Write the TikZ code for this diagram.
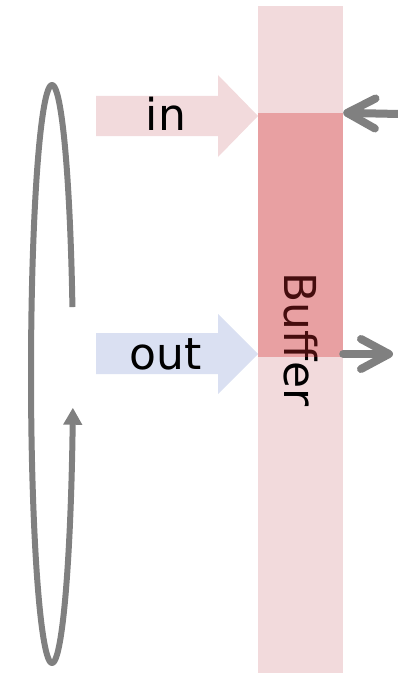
\documentclass[tikz,border=0pt]{standalone}
\usepackage{fontspec}
\setmainfont{DejaVu Sans}
\usetikzlibrary{arrows.meta}

\definecolor{bufferpink}{RGB}{242,218,220}
\definecolor{windowred}{RGB}{212,42,45}
\definecolor{outblue}{RGB}{218,224,242}

\begin{document}
\begin{tikzpicture}[x=1pt,y=-1pt,
    every node/.style={font=\fontsize{44}{52}\selectfont,inner sep=0pt},
    flow/.style={draw=gray,line width=8pt,line cap=round,line join=round},
    bar/.style={minimum width=85pt}]
    \useasboundingbox (0,0) rectangle (397,674);
    % the buffer, its label, and the red window drawn over the label
    \node[bar,fill=bufferpink,minimum height=667pt] (buffer) at (300.5,339.5) {};
    \node[rotate=-90] (bufferlabel) at (buffer.center) {Buffer};
    \node[bar,fill=windowred,fill opacity=0.33,minimum height=244pt] (window) at (300.5,235) {};
    % fat arrows into the window
    \fill[bufferpink] (96,96) -- (218,96) -- (218,75) -- (258,116) -- (218,157) -- (218,136) -- (96,136) -- cycle;
    \node[anchor=base] (inlabel) at (166,130) {in};
    \fill[outblue] (96,333) -- (218,333) -- (218,314) -- (258,354) -- (218,394) -- (218,374) -- (96,374) -- cycle;
    \node[anchor=base] (outlabel) at (166,369) {out};
    % feed and drain on the right
    \coordinate (feed) at (399,114);
    \coordinate (drain) at (393,354);
    \draw[flow,-{Straight Barb[length=28pt,width=30pt,round]}] (feed) -- (window.north east);
    \draw[flow,-{Straight Barb[length=28pt,width=30pt,round]}] (window.east |- drain) -- (drain);
    % the loop on the left
    \draw[flow,line width=6pt,line cap=butt,-{Triangle[length=17pt,width=18pt]},domain=13.4:353.3,samples=150,smooth,variable=\t]
      plot ({52+21*cos(\t)},{374-289*sin(\t)});
\end{tikzpicture}
\end{document}
